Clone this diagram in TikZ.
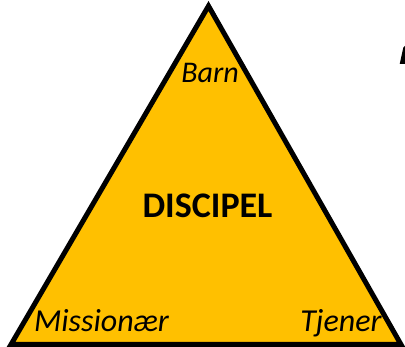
\documentclass[tikz,border=0pt]{standalone}
\usepackage{fontspec}
\setmainfont{Carlito}
\usepackage{xcolor}
\definecolor{gold}{HTML}{FFC000}

\begin{document}
\begin{tikzpicture}[x=1pt,y=-1pt,
  role/.style={font=\itshape\fontsize{32}{34}\selectfont, inner sep=0pt, anchor=base},
  title/.style={font=\bfseries\fontsize{36}{38}\selectfont, inner sep=0pt, anchor=base}]
\useasboundingbox (0,0) rectangle (405,347);
\coordinate (apex) at (208.5,6);
\coordinate (left) at (11,344.5);
\coordinate (right) at (401,344.5);

\draw[line width=5pt, fill=gold] (apex) -- (left) -- (right) -- cycle;
\fill (399.7,64) -- (403.3,47.7) -- (405,46) -- (405,64) -- cycle;

\node[role, font=\itshape\fontsize{30}{32}\selectfont] (barn) at (210,83) {Barn};
\node[title] (discipel) at (207.5,218) {DISCIPEL};
\node[role] (missionaer) at (101.5,332) {Missionær};
\node[role] (tjener) at (341,332) {Tjener};
\end{tikzpicture}
\end{document}
